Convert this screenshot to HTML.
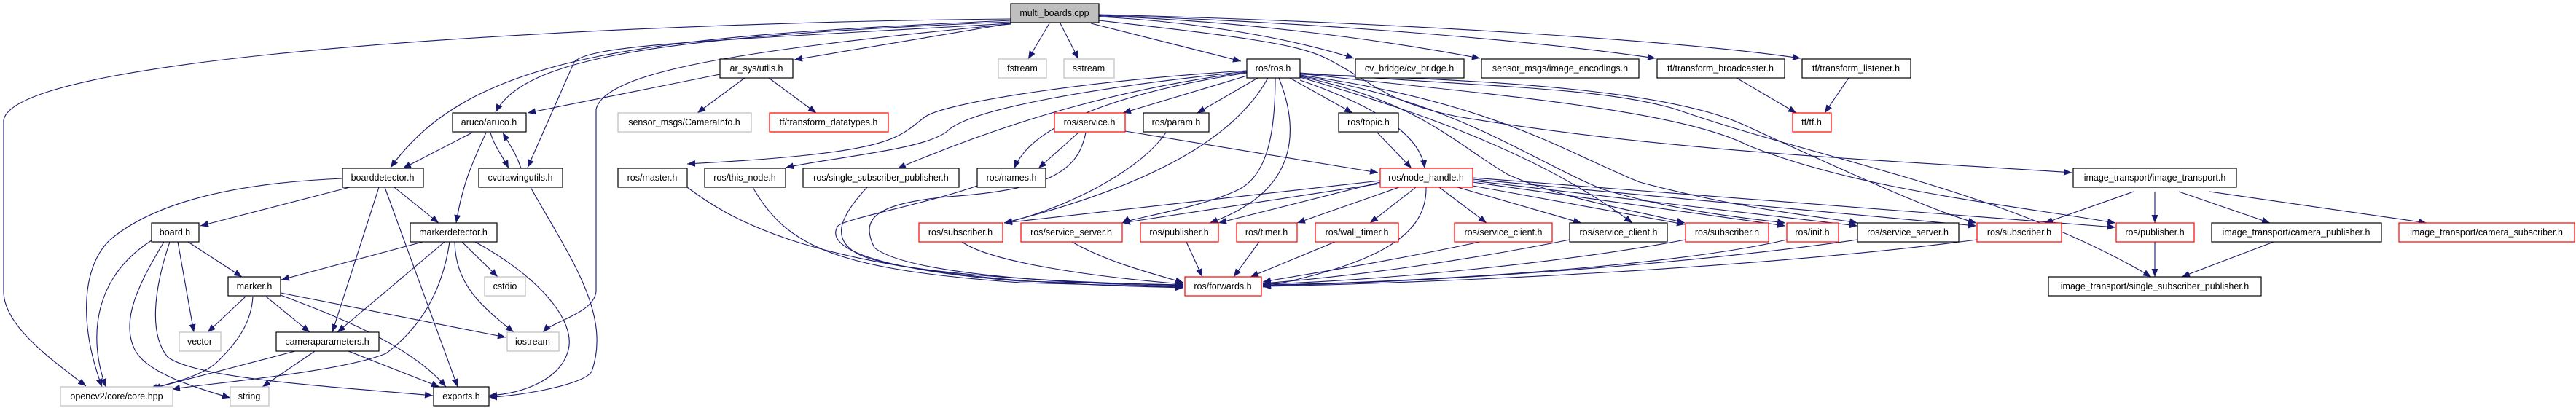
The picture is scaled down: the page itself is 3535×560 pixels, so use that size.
<!DOCTYPE html>
<html><head><meta charset="utf-8"><style>
html,body{margin:0;padding:0;background:#fff;width:3535px;height:560px;overflow:hidden}
svg{display:block}
text{font-family:"Liberation Sans",sans-serif;font-size:12.5px;fill:#000;text-anchor:middle}
.e{fill:none;stroke:#191970;stroke-width:1.1;marker-end:url(#a)}
.n{fill:#fff;stroke:#000;stroke-width:1.2}
.r{fill:#fff;stroke:#ff0000;stroke-width:1.2}
.g{fill:#fff;stroke:#bfbfbf;stroke-width:1.2}
</style></head><body>
<svg width="3535" height="560" viewBox="0 0 3535 560" xmlns="http://www.w3.org/2000/svg">
<defs><marker id="a" markerUnits="userSpaceOnUse" markerWidth="12" markerHeight="10" refX="11" refY="4.5" orient="auto"><path d="M0,0 L11,4.5 L0,9 z" fill="#191970"/></marker></defs>
<g>
<!-- from multi_boards.cpp -->
<path class="e" d="M1387,26 C900,30 20,70 5,165 L5,400 C5,450 80,500 118,530"/>
<path class="e" d="M1387,28 C900,50 650,70 536,230"/>
<path class="e" d="M1387,30 C900,50 720,80 680,154"/>
<path class="e" d="M1387,32 C1000,55 810,60 788,85 L724,230"/>
<path class="e" d="M1387,33 C1000,70 830,100 818,150 L818,400 C815,430 760,440 745,456"/>
<path class="e" d="M1387,32 L1090,82"/>
<path class="e" d="M1440,32 L1411,81"/>
<path class="e" d="M1455,32 L1480,81"/>
<path class="e" d="M1497,32 L1703,84"/>
<path class="e" d="M1508,23 C1650,30 1780,55 1858,80"/>
<path class="e" d="M1508,22 C1700,28 1900,55 2031,80"/>
<path class="e" d="M1508,21 C1800,30 2100,55 2272,80"/>
<path class="e" d="M1508,20 C1900,30 2300,55 2471,80"/>
<path class="e" d="M1508,28 C1700,50 1780,60 1820,80 C1880,110 1900,140 2000,160 C2300,210 2600,220 2843,237"/>
<!-- ar_sys/utils -->
<path class="e" d="M988,102 L724,155"/>
<path class="e" d="M1022,107 L957,155"/>
<path class="e" d="M1055,107 L1120,155"/>
<!-- aruco -->
<path class="e" d="M648,182 L553,231"/>
<path class="e" d="M667,182 C650,220 635,250 626,306"/>
<path class="e" d="M673,182 C678,200 690,215 698,231"/>
<path class="e" d="M715,231 C708,210 700,200 690,182"/>
<path class="e" d="M728,257 C780,350 840,430 812,510 C800,530 700,545 671,545"/>
<!-- boarddetector -->
<path class="e" d="M470,245 C350,250 220,270 150,330 C110,370 110,450 140,531"/>
<path class="e" d="M480,257 L275,310"/>
<path class="e" d="M541,257 L602,306"/>
<path class="e" d="M520,257 L456,456"/>
<path class="e" d="M528,257 L628,531"/>
<!-- board -->
<path class="e" d="M208,330 C130,380 120,460 145,531"/>
<path class="e" d="M225,332 C190,390 165,440 185,480 C200,510 260,530 316,546"/>
<path class="e" d="M233,332 C210,400 205,460 230,490 C270,520 450,530 594,543"/>
<path class="e" d="M244,332 L266,456"/>
<path class="e" d="M258,332 L332,380"/>
<!-- markerdetector -->
<path class="e" d="M580,332 L386,384"/>
<path class="e" d="M610,332 L463,456"/>
<path class="e" d="M617,332 C610,380 590,440 530,485 C470,510 300,525 236,534"/>
<path class="e" d="M634,332 L683,380"/>
<path class="e" d="M624,332 C625,390 660,420 705,456"/>
<path class="e" d="M652,332 C740,380 790,440 780,480 C770,520 720,540 671,543"/>
<!-- marker -->
<path class="e" d="M337,407 L285,456"/>
<path class="e" d="M365,407 L425,456"/>
<path class="e" d="M385,402 L694,463"/>
<path class="e" d="M385,405 C450,430 560,470 612,531"/>
<path class="e" d="M347,407 C345,440 330,465 300,495 C280,515 240,525 205,534"/>
<!-- cameraparameters -->
<path class="e" d="M405,482 L210,533"/>
<path class="e" d="M432,482 L360,531"/>
<path class="e" d="M478,482 L603,531"/>
<!-- ros/ros.h -->
<path class="e" d="M1711,97 C1500,110 1300,140 1270,160 C1230,190 1230,210 943,225"/>
<path class="e" d="M1711,98 C1500,120 1330,150 1300,180 C1270,205 1150,215 1078,230"/>
<path class="e" d="M1711,99 C1550,120 1400,160 1232,231"/>
<path class="e" d="M1711,100 C1580,120 1420,160 1392,231"/>
<path class="e" d="M1711,104 L1541,155"/>
<path class="e" d="M1726,107 L1643,155"/>
<path class="e" d="M1740,107 C1700,180 1600,250 1378,306"/>
<path class="e" d="M1750,107 C1750,180 1740,240 1700,260 C1650,285 1550,300 1540,306"/>
<path class="e" d="M1755,107 C1780,170 1790,260 1660,306"/>
<path class="e" d="M1770,107 L1856,155"/>
<path class="e" d="M1784,110 C1900,150 1950,190 1955,231"/>
<path class="e" d="M1784,106 C1900,140 2100,200 2240,306"/>
<path class="e" d="M1784,105 C1950,140 2000,200 2070,240 C2150,275 2250,290 2312,306"/>
<path class="e" d="M1784,104 C2000,140 2100,220 2200,260 C2300,290 2400,300 2450,306"/>
<path class="e" d="M1784,103 C2050,140 2150,210 2250,250 C2400,290 2520,300 2549,306"/>
<path class="e" d="M1784,102 C2100,110 2300,130 2390,170 C2500,220 2650,290 2712,306"/>
<path class="e" d="M1784,101 C2050,130 2300,150 2400,200 C2550,260 2750,280 2903,306"/>
<path class="e" d="M1784,100 C2050,120 2200,120 2300,150 C2500,220 2750,260 2952,380"/>
<!-- service / param / names etc -->
<path class="e" d="M1480,182 L1425,231"/>
<path class="e" d="M1490,182 C1480,230 1450,260 1300,270 C1200,280 1180,300 1200,340 C1250,380 1500,390 1624,393"/>
<path class="e" d="M1544,180 L1891,237"/>
<path class="e" d="M1600,182 C1560,240 1450,290 1378,306"/>
<path class="e" d="M943,257 C1000,300 1100,360 1400,385 C1500,392 1560,393 1624,395"/>
<path class="e" d="M1033,257 C1080,340 1150,370 1400,388 L1624,394"/>
<path class="e" d="M1190,257 C1150,300 1140,330 1180,350 C1250,380 1500,388 1624,392"/>
<path class="e" d="M1341,255 C1270,280 1160,300 1150,310 C1130,340 1200,370 1400,386 L1624,391"/>
<path class="e" d="M1320,332 C1360,360 1500,380 1624,390"/>
<path class="e" d="M1471,332 C1520,360 1580,375 1624,388"/>
<path class="e" d="M1628,332 L1650,380"/>
<path class="e" d="M1728,332 L1693,380"/>
<path class="e" d="M1832,332 L1716,380"/>
<path class="e" d="M2031,332 C1900,360 1800,375 1733,387"/>
<path class="e" d="M2154,329 C2000,360 1850,380 1733,389"/>
<path class="e" d="M2313,329 C2150,360 1900,385 1733,390"/>
<path class="e" d="M2452,329 C2300,365 1950,388 1733,391"/>
<path class="e" d="M2549,329 C2300,365 1950,388 1733,392"/>
<path class="e" d="M2713,329 C2400,370 1950,389 1733,393"/>
<path class="e" d="M1957,257 C1958,320 1900,360 1733,394"/>
<!-- topic / node_handle -->
<path class="e" d="M1890,182 L1937,231"/>
<path class="e" d="M1894,250 L1672,306"/>
<path class="e" d="M1894,252 L1540,306"/>
<path class="e" d="M1894,248 L1378,306"/>
<path class="e" d="M1920,257 L1780,306"/>
<path class="e" d="M1943,257 L1880,306"/>
<path class="e" d="M1975,257 L2040,306"/>
<path class="e" d="M2000,257 L2170,306"/>
<path class="e" d="M2021,255 L2312,308"/>
<path class="e" d="M2021,250 L2450,310"/>
<path class="e" d="M2021,248 L2549,310"/>
<path class="e" d="M2021,246 L2712,310"/>
<path class="e" d="M2021,244 L2903,312"/>
<!-- tf -->
<path class="e" d="M2383,107 L2465,155"/>
<path class="e" d="M2537,107 L2504,155"/>
<!-- image_transport -->
<path class="e" d="M2928,263 L2806,306"/>
<path class="e" d="M2957,263 L2957,306"/>
<path class="e" d="M2990,263 L3115,306"/>
<path class="e" d="M3032,263 L3330,306"/>
<path class="e" d="M2957,332 L2957,380"/>
<path class="e" d="M3120,332 L2994,380"/>
</g>
<g>
<rect class="n" x="1387" y="5" width="121" height="26" style="fill:#bfbfbf"/><text x="1447" y="22">multi_boards.cpp</text>
<rect class="n" x="988" y="81" width="100" height="26"/><text x="1038" y="98">ar_sys/utils.h</text>
<rect class="g" x="1370" y="81" width="66" height="26"/><text x="1403" y="98">fstream</text>
<rect class="g" x="1460" y="81" width="69" height="26"/><text x="1494" y="98">sstream</text>
<rect class="n" x="1711" y="81" width="73" height="26"/><text x="1747" y="98">ros/ros.h</text>
<rect class="n" x="1860" y="81" width="149" height="26"/><text x="1934" y="98">cv_bridge/cv_bridge.h</text>
<rect class="n" x="2033" y="81" width="216" height="26"/><text x="2141" y="98">sensor_msgs/image_encodings.h</text>
<rect class="n" x="2274" y="81" width="175" height="26"/><text x="2361" y="98">tf/transform_broadcaster.h</text>
<rect class="n" x="2473" y="81" width="149" height="26"/><text x="2547" y="98">tf/transform_listener.h</text>

<rect class="n" x="621" y="155" width="101" height="26"/><text x="671" y="172">aruco/aruco.h</text>
<rect class="g" x="848" y="155" width="183" height="26"/><text x="939" y="172">sensor_msgs/CameraInfo.h</text>
<rect class="r" x="1056" y="155" width="163" height="26"/><text x="1137" y="172">tf/transform_datatypes.h</text>
<rect class="r" x="1447" y="155" width="97" height="26"/><text x="1495" y="172">ros/service.h</text>
<rect class="n" x="1569" y="155" width="90" height="26"/><text x="1614" y="172">ros/param.h</text>
<rect class="n" x="1837" y="155" width="82" height="26"/><text x="1878" y="172">ros/topic.h</text>
<rect class="r" x="2460" y="155" width="53" height="26"/><text x="2486" y="172">tf/tf.h</text>

<rect class="n" x="470" y="231" width="111" height="26"/><text x="525" y="248">boarddetector.h</text>
<rect class="n" x="657" y="231" width="115" height="26"/><text x="714" y="248">cvdrawingutils.h</text>
<rect class="n" x="848" y="231" width="95" height="26"/><text x="895" y="248">ros/master.h</text>
<rect class="n" x="967" y="231" width="111" height="26"/><text x="1022" y="248">ros/this_node.h</text>
<rect class="n" x="1102" y="231" width="214" height="26"/><text x="1209" y="248">ros/single_subscriber_publisher.h</text>
<rect class="n" x="1341" y="231" width="94" height="26"/><text x="1388" y="248">ros/names.h</text>
<rect class="r" x="1894" y="231" width="127" height="26"/><text x="1957" y="248">ros/node_handle.h</text>
<rect class="n" x="2845" y="231" width="224" height="26"/><text x="2957" y="248">image_transport/image_transport.h</text>

<rect class="n" x="208" y="306" width="65" height="26"/><text x="240" y="323">board.h</text>
<rect class="n" x="563" y="306" width="119" height="26"/><text x="622" y="323">markerdetector.h</text>
<rect class="r" x="1261" y="306" width="115" height="26"/><text x="1318" y="323">ros/subscriber.h</text>
<rect class="r" x="1401" y="306" width="139" height="26"/><text x="1470" y="323">ros/service_server.h</text>
<rect class="r" x="1565" y="306" width="107" height="26"/><text x="1618" y="323">ros/publisher.h</text>
<rect class="r" x="1697" y="306" width="83" height="26"/><text x="1738" y="323">ros/timer.h</text>
<rect class="r" x="1805" y="306" width="114" height="26"/><text x="1862" y="323">ros/wall_timer.h</text>
<rect class="r" x="1996" y="306" width="134" height="26"/><text x="2063" y="323">ros/service_client.h</text>
<rect class="n" x="2154" y="306" width="134" height="26"/><text x="2221" y="323">ros/service_client.h</text>
<rect class="r" x="2313" y="306" width="114" height="26"/><text x="2370" y="323">ros/subscriber.h</text>
<rect class="r" x="2452" y="306" width="71" height="26"/><text x="2487" y="323">ros/init.h</text>
<rect class="n" x="2549" y="306" width="139" height="26"/><text x="2618" y="323">ros/service_server.h</text>
<rect class="r" x="2713" y="306" width="116" height="26"/><text x="2771" y="323">ros/subscriber.h</text>
<rect class="r" x="2904" y="306" width="107" height="26"/><text x="2957" y="323">ros/publisher.h</text>
<rect class="n" x="3035" y="306" width="233" height="26"/><text x="3151" y="323">image_transport/camera_publisher.h</text>
<rect class="r" x="3292" y="306" width="241" height="26"/><text x="3412" y="323">image_transport/camera_subscriber.h</text>

<rect class="n" x="313" y="380" width="72" height="26"/><text x="349" y="397">marker.h</text>
<rect class="g" x="665" y="380" width="56" height="26"/><text x="693" y="397">cstdio</text>
<rect class="r" x="1626" y="380" width="105" height="26"/><text x="1678" y="397">ros/forwards.h</text>
<rect class="n" x="2811" y="380" width="292" height="26"/><text x="2957" y="397">image_transport/single_subscriber_publisher.h</text>

<rect class="g" x="246" y="456" width="57" height="26"/><text x="274" y="473">vector</text>
<rect class="n" x="379" y="456" width="141" height="26"/><text x="449" y="473">cameraparameters.h</text>
<rect class="g" x="696" y="456" width="71" height="26"/><text x="731" y="473">iostream</text>

<rect class="g" x="83" y="531" width="154" height="26"/><text x="160" y="548">opencv2/core/core.hpp</text>
<rect class="g" x="316" y="531" width="53" height="26"/><text x="342" y="548">string</text>
<rect class="n" x="595" y="531" width="76" height="26"/><text x="633" y="548">exports.h</text>
</g>
</svg>
</body></html>
